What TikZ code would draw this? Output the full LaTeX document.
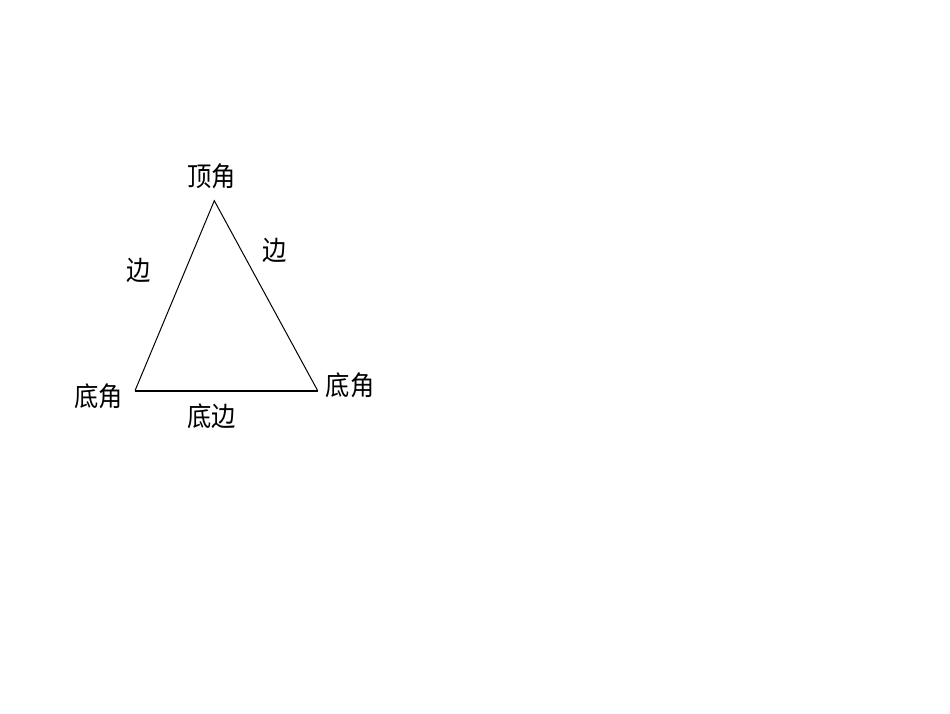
\documentclass[tikz,border=0pt]{standalone}
\usepackage{fontspec}
\usepackage{graphicx}
\newfontfamily\cjk{Noto Sans CJK SC}
\newcommand{\lbltext}[1]{\scalebox{0.9}[1]{#1}}
\begin{document}
\begin{tikzpicture}[x=1pt,y=-1pt,
  lbl/.style={font=\cjk\fontsize{27}{27}\selectfont, inner sep=0pt},
  side/.style={line width=1pt, black}]
\useasboundingbox[fill=white] (0,0) rectangle (950,713);
\coordinate (A) at (214.3,200.7);
\coordinate (B) at (135,390.7);
\coordinate (C) at (317.7,390.7);
\draw[side] (B) -- (A) -- (C);
\draw[line width=1.8pt] (B) -- (C);
\node[lbl] (top) at (211.7,176.7) {\lbltext{顶角}};
\node[lbl] (el) at (138.3,270) {\lbltext{边}};
\node[lbl] (er) at (275,250) {\lbltext{边}};
\node[lbl] (bl) at (98.3,396.7) {\lbltext{底角}};
\node[lbl] (br) at (350,385) {\lbltext{底角}};
\node[lbl] (bb) at (211.7,416) {\lbltext{底边}};
\end{tikzpicture}
\end{document}
